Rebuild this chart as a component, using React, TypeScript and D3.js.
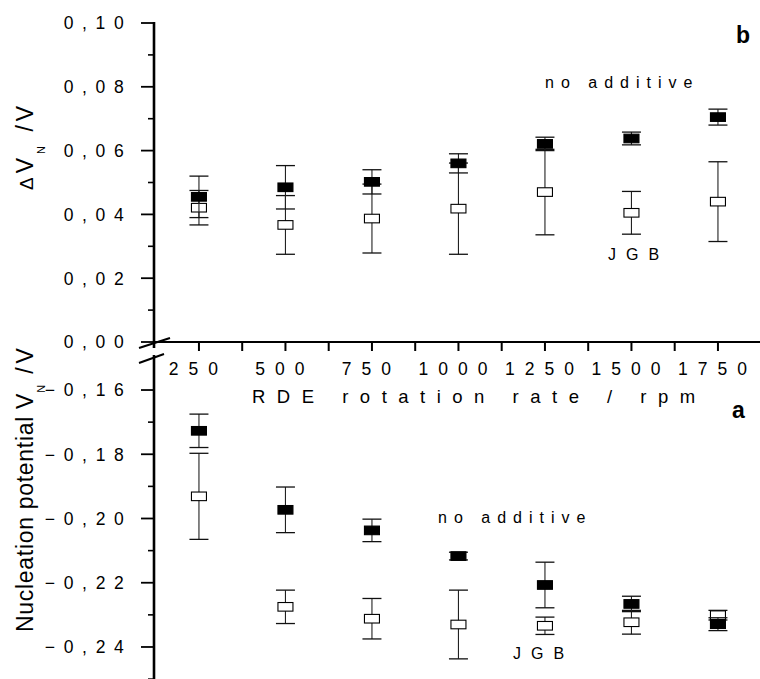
import React from "react";
import * as d3 from "d3";

const rpm = [250, 500, 750, 1000, 1250, 1500, 1750];
const xTicks = [250, 375, 500, 625, 750, 875, 1000, 1125, 1250, 1375, 1500, 1625, 1750];
const xTickLabels = [250, 500, 750, 1000, 1250, 1500, 1750];

// Panel b: ΔV_N / V
const topNoAdd = [0.0455, 0.0485, 0.0502, 0.056, 0.0621, 0.0638, 0.0705];
const topNoAddErr = [0.0065, 0.0068, 0.0038, 0.003, 0.0021, 0.002, 0.0025];
const topJGB = [0.0421, 0.0367, 0.0387, 0.0418, 0.047, 0.0405, 0.044];
const topJGBErr = [0.0054, 0.0092, 0.0108, 0.0143, 0.0134, 0.0067, 0.0125];
const topMajor = [0, 0.02, 0.04, 0.06, 0.08, 0.1];
const topMinor = [0.01, 0.03, 0.05, 0.07, 0.09];

// Panel a: nucleation potential V_N / V
const botNoAdd = [-0.1727, -0.1973, -0.2037, -0.2117, -0.2207, -0.2266, -0.2329];
const botNoAddErr = [0.0052, 0.0071, 0.0035, 0.0012, 0.0071, 0.0024, 0.002];
const botJGB = [-0.1931, -0.2275, -0.2312, -0.233, -0.2334, -0.2323, -0.2301];
const botJGBErr = [0.0134, 0.0052, 0.0063, 0.0107, 0.0027, 0.0037, 0.0015];
const botMajor = [-0.16, -0.18, -0.2, -0.22, -0.24];
const botMinor = [-0.17, -0.19, -0.21, -0.23, -0.25];

const W = 760;
const H = 679;
const AX = 154;
const FONT = "Arial, 'Liberation Sans', sans-serif";

const x = d3.scaleLinear().domain([125, 1875]).range([155.7, 761.2]);
const yTop = d3.scaleLinear().domain([0, 0.1]).range([342, 23]);
const yBot = d3.scaleLinear().domain([-0.25, -0.15]).range([679.1, 357.9]);

const fmt = (v: number) => d3.format(".2f")(v).replace(".", ",");

type Scale = d3.ScaleLinear<number, number>;

function Series({ vals, errs, y, filled }: { vals: number[]; errs: number[]; y: Scale; filled: boolean }) {
  const cw = 9.5;
  return (
    <g>
      {vals.map((v, i) => {
        const cx = x(rpm[i]);
        const y1 = y(v + errs[i]);
        const y2 = y(v - errs[i]);
        return (
          <g key={i}>
            <line x1={cx} x2={cx} y1={y1} y2={y2} stroke="#222" strokeWidth={1.1} />
            <line x1={cx - cw} x2={cx + cw} y1={y1} y2={y1} stroke="#111" strokeWidth={1.3} />
            <line x1={cx - cw} x2={cx + cw} y1={y2} y2={y2} stroke="#111" strokeWidth={1.3} />
            <rect
              x={cx - 7.5}
              y={y(v) - 4.3}
              width={15}
              height={8.6}
              fill={filled ? "#000" : "#fff"}
              stroke="#000"
              strokeWidth={1.1}
            />
          </g>
        );
      })}
    </g>
  );
}

function YTicks({ major, minor, y }: { major: number[]; minor: number[]; y: Scale }) {
  return (
    <g>
      {major.map((v) => (
        <g key={"M" + v}>
          <line x1={AX - 13} x2={AX} y1={y(v)} y2={y(v)} stroke="#000" strokeWidth={1.8} />
          <text
            x={132.5}
            y={y(v)}
            dy="0.36em"
            textAnchor="end"
            fontSize={17.5}
            letterSpacing={8.7}
            fontFamily={FONT}
          >
            {fmt(v)}
          </text>
        </g>
      ))}
      {minor.map((v) => (
        <line key={"m" + v} x1={AX - 6} x2={AX} y1={y(v)} y2={y(v)} stroke="#000" strokeWidth={1.6} />
      ))}
    </g>
  );
}

export default function App() {
  const xAxisY = yTop(0);
  return (
    <svg
      width={W}
      height={H}
      viewBox={`0 0 ${W} ${H}`}
      style={{ position: "absolute", left: 0, top: 0, background: "#fff" }}
    >
      <rect x={0} y={0} width={W} height={H} fill="#fff" />

      {/* y axes */}
      <line x1={AX} x2={AX} y1={yTop(0.1) - 1} y2={348} stroke="#000" strokeWidth={2.6} />
      <line x1={AX} x2={AX} y1={355} y2={H} stroke="#000" strokeWidth={2.6} />
      {/* break marks */}
      <line x1={139} y1={348} x2={170} y2={338} stroke="#000" strokeWidth={2} />
      <line x1={139} y1={363} x2={164} y2={354} stroke="#000" strokeWidth={2} />

      {/* x axis */}
      <line x1={AX} x2={W} y1={xAxisY} y2={xAxisY} stroke="#000" strokeWidth={2} />
      {xTicks.map((t) => (
        <line key={t} x1={x(t)} x2={x(t)} y1={xAxisY} y2={xAxisY + 9} stroke="#000" strokeWidth={2} />
      ))}
      {xTickLabels.map((t) => (
        <text
          key={t}
          x={x(t) - 0.5}
          y={375}
          textAnchor="middle"
          fontSize={17.5}
          letterSpacing={10}
          fontFamily={FONT}
        >
          {t}
        </text>
      ))}
      <text x={252} y={403} fontSize={18.5} letterSpacing={11.5} fontFamily={FONT}>
        RDE rotation rate / rpm
      </text>

      <YTicks major={topMajor} minor={topMinor} y={yTop} />
      <YTicks major={botMajor} minor={botMinor} y={yBot} />

      {/* y axis titles */}
      <text transform="translate(33,190) rotate(-90)" fontSize={23} letterSpacing={4} fontFamily={FONT}>
        <tspan fontSize={19}>Δ</tspan>
        <tspan>V</tspan>
        <tspan fontSize={11} dy={12}>N</tspan>
        <tspan dy={-12}> /V</tspan>
      </text>
      <text transform="translate(33,632) rotate(-90)" fontSize={23} letterSpacing={0.7} fontFamily={FONT}>
        Nucleation potential V
        <tspan fontSize={11} dy={12}>N</tspan>
        <tspan dy={-12} letterSpacing={4}> /V</tspan>
      </text>

      {/* panel b series */}
      <Series vals={topJGB} errs={topJGBErr} y={yTop} filled={false} />
      <Series vals={topNoAdd} errs={topNoAddErr} y={yTop} filled={true} />
      {/* panel a series */}
      <Series vals={botJGB} errs={botJGBErr} y={yBot} filled={false} />
      <Series vals={botNoAdd} errs={botNoAddErr} y={yBot} filled={true} />

      {/* annotations */}
      <text x={545} y={88} fontSize={16} letterSpacing={7} fontFamily={FONT}>no additive</text>
      <text x={608} y={260} fontSize={16} letterSpacing={10} fontFamily={FONT}>JGB</text>
      <text x={438} y={523} fontSize={16} letterSpacing={7} fontFamily={FONT}>no additive</text>
      <text x={513} y={659} fontSize={16} letterSpacing={10} fontFamily={FONT}>JGB</text>

      <text x={736} y={43} fontSize={23} fontWeight="bold" fontFamily={FONT}>b</text>
      <text x={732} y={418} fontSize={23} fontWeight="bold" fontFamily={FONT}>a</text>
    </svg>
  );
}
